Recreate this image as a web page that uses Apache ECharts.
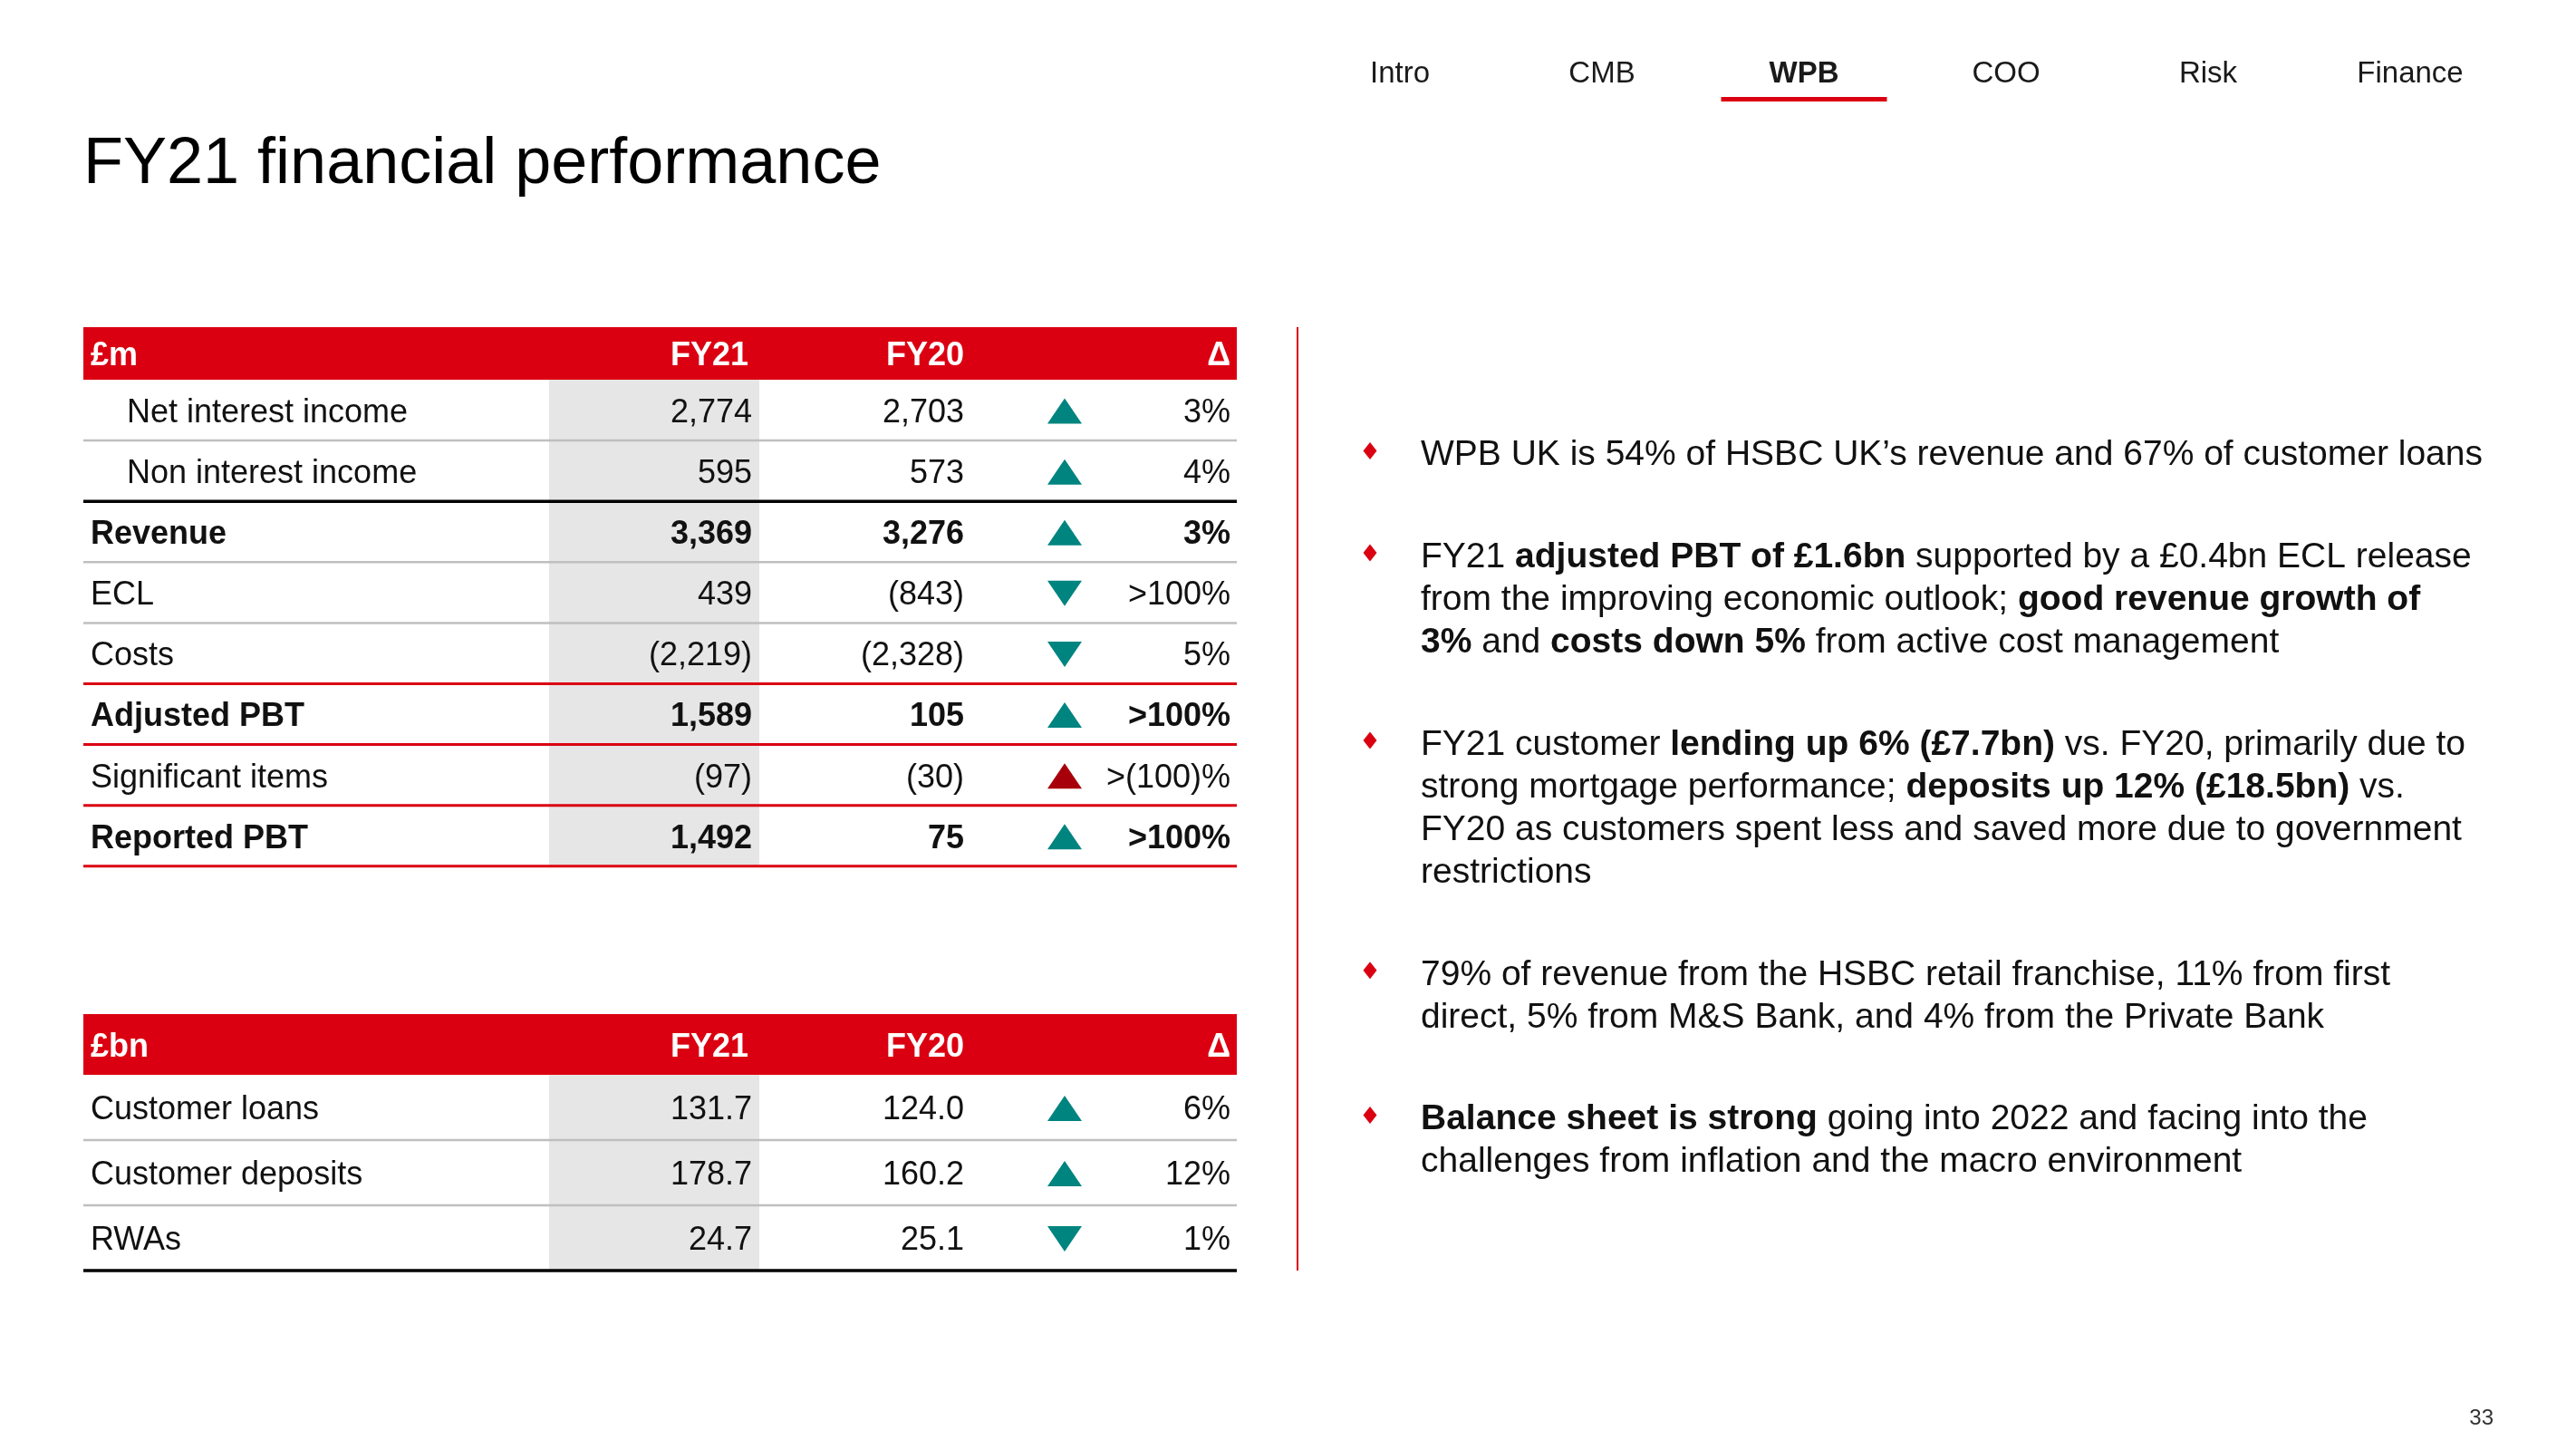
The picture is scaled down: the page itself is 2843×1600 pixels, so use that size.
<!DOCTYPE html>
<html>
<head>
<meta charset="utf-8">
<script src="https://cdn.jsdelivr.net/npm/echarts@6/dist/echarts.min.js"></script>
<style>
html,body{margin:0;padding:0;background:#ffffff;}
#c{width:2843px;height:1600px;}
</style>
</head>
<body>
<div id="c"></div>
<script>
// ---------- DATA ----------
const navItems = ['Intro', 'CMB', 'WPB', 'COO', 'Risk', 'Finance'];
const activeNav = 'WPB';
const pageTitle = 'FY21 financial performance';
const pageNumber = '33';

const pnlHeader = ['£m', 'FY21', 'FY20', 'Δ'];
const pnlRows = ['Net interest income', 'Non interest income', 'Revenue', 'ECL', 'Costs', 'Adjusted PBT', 'Significant items', 'Reported PBT'];
const pnlFY21 = ['2,774', '595', '3,369', '439', '(2,219)', '1,589', '(97)', '1,492'];
const pnlFY20 = ['2,703', '573', '3,276', '(843)', '(2,328)', '105', '(30)', '75'];
const pnlDelta = ['3%', '4%', '3%', '>100%', '5%', '>100%', '>(100)%', '>100%'];
const pnlArrow = ['up', 'up', 'up', 'down', 'down', 'up', 'upRed', 'up'];
const pnlBold = [false, false, true, false, false, true, false, true];
const pnlIndent = [true, true, false, false, false, false, false, false];
const pnlRule = ['grey', 'black', 'grey', 'grey', 'red', 'red', 'red', 'red'];

const bsHeader = ['£bn', 'FY21', 'FY20', 'Δ'];
const bsRows = ['Customer loans', 'Customer deposits', 'RWAs'];
const bsFY21 = ['131.7', '178.7', '24.7'];
const bsFY20 = ['124.0', '160.2', '25.1'];
const bsDelta = ['6%', '12%', '1%'];
const bsArrow = ['up', 'up', 'down'];
const bsBold = [false, false, false];
const bsIndent = [false, false, false];
const bsRule = ['grey', 'grey', 'black'];

const bullets = [
  ['WPB UK is 54% of HSBC UK’s revenue and 67% of customer loans'],
  ['FY21 **adjusted PBT of £1.6bn** supported by a £0.4bn ECL release',
   'from the improving economic outlook; **good revenue growth of**',
   '**3%** and **costs down 5%** from active cost management'],
  ['FY21 customer **lending up 6% (£7.7bn)** vs. FY20, primarily due to',
   'strong mortgage performance; **deposits up 12% (£18.5bn)** vs.',
   'FY20 as customers spent less and saved more due to government',
   'restrictions'],
  ['79% of revenue from the HSBC retail franchise, 11% from first',
   'direct, 5% from M&S Bank, and 4% from the Private Bank'],
  ['**Balance sheet is strong** going into 2022 and facing into the',
   'challenges from inflation and the macro environment']
];

// ---------- STYLE / LAYOUT ----------
const FONT = '"Liberation Sans", Arial, Helvetica, sans-serif';
const INK = '#111111';
const RED = '#db0011';
const RED_DARK = '#a8000b';
const TEAL = '#00847f';
const GRAY_BG = '#e6e6e6';
const RULES = {
  grey: { c: '#bfbfbf', w: 2.5 },
  black: { c: '#000000', w: 3.5 },
  red: { c: RED, w: 3 }
};
const TFS = 36;            // table font size
const TXT_DY = 3.5;        // optical baseline correction for text
const TABLE_LEFT = 92;
const TABLE_W = 1273;
const COL = { label: 8, indent: 48, grayStart: 514, grayEnd: 746, fy21: 738, fy20: 972, arrow: 1083, delta: 1266 };
const ARROW = { w: 38, h: 28 };
const T1 = { top: 419, rowH: 67.1, headH: 58 };
const T2 = { top: 1186, rowH: 72, headH: 67 };

const NAV = { x0: 1545, step: 223, y: 81.5, fs: 33, ulW: 183, ulY: 107, ulH: 5 };
const TITLE = { x: 92, y: 182, fs: 72 };
const DIVIDER = { x: 1432, y1: 361, y2: 1402 };
const BUL = { dotX: 1512, textX: 1568, y0: 499, lineH: 47.1, gap: 65.5, fs: 39 };

// ---------- HELPERS ----------
function tableDef(rows, fy21, fy20, delta, arrow, bold, indent, rule) {
  return { rows, fy21, fy20, delta, arrow, bold, indent, rule };
}
const pnl = tableDef(pnlRows, pnlFY21, pnlFY20, pnlDelta, pnlArrow, pnlBold, pnlIndent, pnlRule);
const bs = tableDef(bsRows, bsFY21, bsFY20, bsDelta, bsArrow, bsBold, bsIndent, bsRule);

function txtEl(s, x, y, align, bold, fs, color) {
  return {
    type: 'text', x: x, y: y, z2: 20,
    style: {
      text: s, fill: color || INK, fontSize: fs || TFS, fontFamily: FONT,
      fontWeight: bold ? 'bold' : 'normal',
      align: align, verticalAlign: 'middle', textAlign: align, textVerticalAlign: 'middle'
    }
  };
}

function makeRender(t) {
  return function (params, api) {
    const i = api.value(1);
    const cs = params.coordSys;
    const cy = api.coord([0, i])[1];
    const h = api.size([0, 1])[1];
    const L = cs.x, W = cs.width;
    const top = cy - h / 2, bot = cy + h / 2;
    const ty = cy + TXT_DY;
    const b = t.bold[i];
    const dir = t.arrow[i];
    const up = dir !== 'down';
    const col = dir === 'upRed' ? RED_DARK : TEAL;
    const ax = L + COL.arrow, aw = ARROW.w / 2, ah = ARROW.h / 2;
    const ac = cy + 1;
    const pts = up
      ? [[ax - aw, ac + ah], [ax + aw, ac + ah], [ax, ac - ah]]
      : [[ax - aw, ac - ah], [ax + aw, ac - ah], [ax, ac + ah]];
    const r = RULES[t.rule[i]];
    return {
      type: 'group',
      children: [
        { type: 'rect', z2: 0, shape: { x: L + COL.grayStart, y: top, width: COL.grayEnd - COL.grayStart, height: h }, style: { fill: GRAY_BG } },
        txtEl(t.rows[i], L + (t.indent[i] ? COL.indent : COL.label), ty, 'left', b),
        txtEl(t.fy21[i], L + COL.fy21, ty, 'right', b),
        txtEl(t.fy20[i], L + COL.fy20, ty, 'right', b),
        { type: 'polygon', z2: 20, shape: { points: pts }, style: { fill: col } },
        txtEl(t.delta[i], L + COL.delta, ty, 'right', b),
        { type: 'line', z2: 30, shape: { x1: L, y1: bot, x2: L + W, y2: bot }, style: { stroke: r.c, lineWidth: r.w } }
      ]
    };
  };
}

function headerEls(hdr, T) {
  const y0 = T.top - T.headH, cy = y0 + T.headH / 2 + TXT_DY;
  return [
    { type: 'rect', shape: { x: TABLE_LEFT, y: y0, width: TABLE_W, height: T.headH }, style: { fill: RED } },
    txtEl(hdr[0], TABLE_LEFT + COL.label, cy, 'left', true, TFS, '#ffffff'),
    txtEl(hdr[1], TABLE_LEFT + COL.fy21 - 4, cy, 'right', true, TFS, '#ffffff'),
    txtEl(hdr[2], TABLE_LEFT + COL.fy20, cy, 'right', true, TFS, '#ffffff'),
    txtEl(hdr[3], TABLE_LEFT + COL.delta, cy, 'right', true, TFS, '#ffffff')
  ];
}

function toRich(line) {
  const parts = line.split('**');
  return parts.map((p, k) => p.length ? ('{' + (k % 2 ? 'b' : 'n') + '|' + p + '}') : '').join('');
}

const graphics = [];
// nav
navItems.forEach((n, k) => {
  const x = NAV.x0 + k * NAV.step;
  graphics.push(txtEl(n, x, NAV.y, 'center', n === activeNav, NAV.fs, '#1a1a1a'));
  if (n === activeNav) {
    graphics.push({ type: 'rect', shape: { x: x - NAV.ulW / 2, y: NAV.ulY, width: NAV.ulW, height: NAV.ulH }, style: { fill: RED } });
  }
});
// title
graphics.push(txtEl(pageTitle, TITLE.x, TITLE.y, 'left', false, TITLE.fs, '#000000'));
// table headers
headerEls(pnlHeader, T1).forEach(e => graphics.push(e));
headerEls(bsHeader, T2).forEach(e => graphics.push(e));
// divider
graphics.push({ type: 'line', shape: { x1: DIVIDER.x, y1: DIVIDER.y1, x2: DIVIDER.x, y2: DIVIDER.y2 }, style: { stroke: RED, lineWidth: 2 } });
// bullets
let by = BUL.y0;
const richStyles = {
  n: { fontSize: BUL.fs, fontFamily: FONT, fill: INK, fontWeight: 'normal' },
  b: { fontSize: BUL.fs, fontFamily: FONT, fill: INK, fontWeight: 'bold' }
};
bullets.forEach(lines => {
  graphics.push({
    type: 'polygon',
    shape: { points: [[BUL.dotX, by - 11], [BUL.dotX + 7.5, by - 1.5], [BUL.dotX, by + 8], [BUL.dotX - 7.5, by - 1.5]] },
    style: { fill: RED }
  });
  lines.forEach((ln, j) => {
    graphics.push({
      type: 'text', x: BUL.textX, y: by + j * BUL.lineH + TXT_DY,
      style: { text: toRich(ln), rich: richStyles, align: 'left', verticalAlign: 'middle', textAlign: 'left', textVerticalAlign: 'middle' }
    });
  });
  by += lines.length * BUL.lineH + BUL.gap;
});
// page number
graphics.push(txtEl(pageNumber, 2752, 1565, 'right', false, 24, '#333333'));

const chart = echarts.init(document.getElementById('c'), null, { renderer: 'canvas', width: 2843, height: 1600 });
chart.setOption({
  backgroundColor: '#ffffff',
  animation: false,
  grid: [
    { left: TABLE_LEFT, top: T1.top, width: TABLE_W, height: T1.rowH * pnlRows.length },
    { left: TABLE_LEFT, top: T2.top, width: TABLE_W, height: T2.rowH * bsRows.length }
  ],
  xAxis: [
    { type: 'value', gridIndex: 0, min: 0, max: TABLE_W, show: false },
    { type: 'value', gridIndex: 1, min: 0, max: TABLE_W, show: false }
  ],
  yAxis: [
    { type: 'category', gridIndex: 0, data: pnlRows, inverse: true, show: false },
    { type: 'category', gridIndex: 1, data: bsRows, inverse: true, show: false }
  ],
  series: [
    { type: 'custom', xAxisIndex: 0, yAxisIndex: 0, renderItem: makeRender(pnl), encode: { x: 0, y: 1 }, data: pnlRows.map((r, i) => [0, i]), silent: true },
    { type: 'custom', xAxisIndex: 1, yAxisIndex: 1, renderItem: makeRender(bs), encode: { x: 0, y: 1 }, data: bsRows.map((r, i) => [0, i]), silent: true }
  ],
  graphic: { elements: graphics }
});
</script>
</body>
</html>
